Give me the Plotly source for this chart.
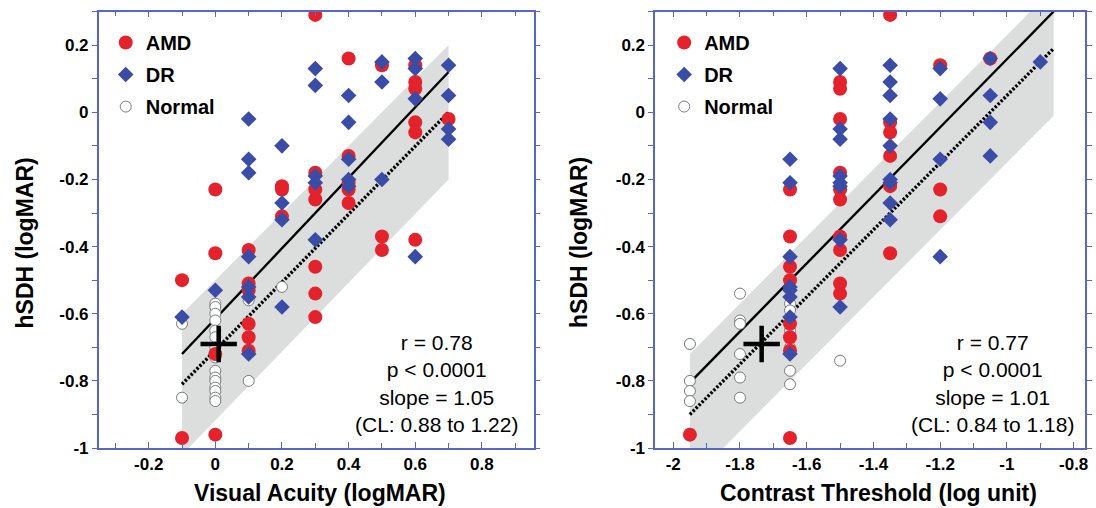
import plotly.graph_objects as go

# ---------------- Data: Visual Acuity panel ----------------
va_amd_x = [0.3, 0.4, 0.5, 0.6, 0.6, 0.6, 0.6, 0.6, 0.7, 0.0, 0.2, 0.2, 0.2, 0.3, 0.3, 0.3,
            0.4, 0.4, 0.4, 0.4, 0.5, 0.5, 0.6, 0.3, 0.3, 0.3, 0.1, 0.1, 0.1, 0.1, 0.1, 0.1,
            0.0, 0.0, 0.0, -0.1, -0.1]
va_amd_y = [0.29, 0.16, 0.14, 0.14, 0.09, 0.07, -0.03, -0.06, -0.02, -0.23, -0.22, -0.23, -0.31,
            -0.18, -0.23, -0.26, -0.13, -0.21, -0.23, -0.27, -0.37, -0.41, -0.38, -0.46, -0.54,
            -0.61, -0.41, -0.51, -0.53, -0.63, -0.67, -0.71, -0.42, -0.72, -0.96, -0.50, -0.97]
va_dr_x = [0.3, 0.3, 0.4, 0.4, 0.5, 0.5, 0.6, 0.6, 0.6, 0.7, 0.7, 0.7, 0.7, 0.1, 0.1, 0.1,
           0.2, 0.2, 0.2, 0.3, 0.3, 0.4, 0.4, 0.4, 0.5, 0.6, 0.3, 0.2, 0.1, 0.1, 0.1, 0.1,
           0.0, -0.1]
va_dr_y = [0.13, 0.08, 0.05, -0.03, 0.15, 0.09, 0.16, 0.13, 0.04, 0.14, 0.05, -0.05, -0.08,
           -0.02, -0.14, -0.18, -0.10, -0.27, -0.32, -0.19, -0.21, -0.14, -0.20, -0.22, -0.20,
           -0.43, -0.38, -0.58, -0.43, -0.52, -0.55, -0.72, -0.53, -0.61]
va_nor_x = [-0.1, -0.1] + [0.0] * 15 + [0.1, 0.1, 0.2]
va_nor_y = [-0.63, -0.85, -0.57, -0.58, -0.60, -0.62, -0.65, -0.67, -0.70, -0.73, -0.77, -0.79,
            -0.80, -0.82, -0.83, -0.85, -0.86, -0.56, -0.80, -0.52]
va_mean_x = [0.01]
va_mean_y = [-0.69]
va_line_x = [-0.1, 0.7]
va_fit_y = [-0.72, 0.12]
va_ref_y = [-0.81, 0.0]
va_band_up = [-0.60, 0.20]
va_band_lo = [-1.02, -0.20]
va_stats = ["r = 0.78", "p < 0.0001", "slope = 1.05", "(CL: 0.88 to 1.22)"]

# ---------------- Data: Contrast Threshold panel ----------------
ct_amd_x = [-1.35, -1.5, -1.5, -1.5, -1.5, -1.5, -1.5, -1.35, -1.35, -1.35, -1.35, -1.2, -1.2,
            -1.2, -1.05, -1.65, -1.65, -1.65, -1.65, -1.65, -1.65, -1.65, -1.65, -1.5, -1.5,
            -1.5, -1.5, -1.35, -1.95]
ct_amd_y = [0.29, 0.09, 0.07, -0.02, -0.18, -0.23, -0.26, -0.03, -0.06, -0.13, -0.22, 0.14,
            -0.23, -0.31, 0.16, -0.23, -0.37, -0.46, -0.50, -0.63, -0.67, -0.71, -0.97, -0.37,
            -0.41, -0.51, -0.54, -0.42, -0.96]
ct_dr_x = [-1.65, -1.65, -1.5, -1.5, -1.5, -1.5, -1.5, -1.5, -1.35, -1.35, -1.35, -1.35, -1.35,
           -1.35, -1.35, -1.35, -1.35, -1.2, -1.2, -1.2, -1.2, -1.05, -1.05, -1.05, -1.05, -0.9,
           -1.65, -1.65, -1.65, -1.65, -1.65, -1.65, -1.5, -1.5]
ct_dr_y = [-0.14, -0.21, 0.13, -0.05, -0.08, -0.19, -0.21, -0.22, 0.14, 0.09, 0.05, -0.02, -0.10,
           -0.20, -0.21, -0.27, -0.32, 0.13, 0.04, -0.14, -0.43, 0.16, 0.05, -0.03, -0.13, 0.15,
           -0.43, -0.52, -0.53, -0.55, -0.61, -0.72, -0.38, -0.58]
ct_nor_x = [-1.95] * 4 + [-1.8] * 6 + [-1.65] * 6 + [-1.5]
ct_nor_y = [-0.69, -0.80, -0.83, -0.86, -0.54, -0.62, -0.63, -0.72, -0.79, -0.85, -0.57, -0.59,
            -0.65, -0.70, -0.77, -0.81, -0.74]
ct_mean_x = [-1.735]
ct_mean_y = [-0.69]
ct_line_x = [-1.95, -0.86]
ct_fit_y = [-0.805, 0.30]
ct_ref_y = [-0.90, 0.19]
ct_band_up = [-0.72, 0.37]
ct_band_lo = [-1.10, -0.01]
ct_stats = ["r = 0.77", "p < 0.0001", "slope = 1.01", "(CL: 0.84 to 1.18)"]

# ---------------- Axis ticks ----------------
y_ticks = [-1, -0.8, -0.6, -0.4, -0.2, 0, 0.2]
y_ticktext = ["-1", "-0.8", "-0.6", "-0.4", "-0.2", "0", "0.2"]
va_ticks = [-0.2, 0, 0.2, 0.4, 0.6, 0.8]
va_ticktext = ["-0.2", "0", "0.2", "0.4", "0.6", "0.8"]
ct_ticks = [-2, -1.8, -1.6, -1.4, -1.2, -1, -0.8]
ct_ticktext = ["-2", "-1.8", "-1.6", "-1.4", "-1.2", "-1", "-0.8"]

RED = "#e4222b"
BLUE = "#3a4ca6"
BAND = "#dcdddd"
AXC = "#5767c2"
FONT = "Liberation Sans, Arial, sans-serif"

W, H = 1096, 508
VS = 0.978  # measured vertical scale between figure pixels and the photographed page


def sx(px):
    return px / W


def sy(py):
    return 1 - (py / VS) / H


fig = go.Figure()


def add_panel(xa, ya, leg, line_x, band_up, band_lo, fit_y, ref_y,
              nx, ny, ax, ay, dx, dy, mx, my):
    fig.add_trace(go.Scatter(x=line_x + line_x[::-1], y=band_up + band_lo[::-1],
                             fill="toself", fillcolor=BAND, line=dict(width=0),
                             mode="lines", hoverinfo="skip", showlegend=False,
                             xaxis=xa, yaxis=ya))
    fig.add_trace(go.Scatter(x=line_x, y=ref_y, mode="lines",
                             line=dict(color="black", width=3.4, dash="2.4px,1.8px"),
                             showlegend=False, xaxis=xa, yaxis=ya))
    fig.add_trace(go.Scatter(x=line_x, y=fit_y, mode="lines",
                             line=dict(color="black", width=2.4),
                             showlegend=False, xaxis=xa, yaxis=ya))
    fig.add_trace(go.Scatter(x=nx, y=ny, mode="markers", name="Normal", legend=leg,
                             legendrank=3, legendgroup=leg + "n",
                             marker=dict(symbol="circle", size=11, color="white",
                                         line=dict(color="#7a7a7a", width=1)),
                             xaxis=xa, yaxis=ya))
    fig.add_trace(go.Scatter(x=ax, y=ay, mode="markers", name="AMD", legend=leg,
                             legendrank=1, legendgroup=leg + "a",
                             marker=dict(symbol="circle", size=14, color=RED,
                                         line=dict(width=0)),
                             xaxis=xa, yaxis=ya))
    fig.add_trace(go.Scatter(x=dx, y=dy, mode="markers", name="DR", legend=leg,
                             legendrank=2, legendgroup=leg + "d",
                             marker=dict(symbol="diamond", size=12, color=BLUE,
                                         line=dict(width=0)),
                             xaxis=xa, yaxis=ya))
    fig.add_trace(go.Scatter(x=mx, y=my, mode="markers", showlegend=False,
                             marker=dict(symbol="cross-thin", size=26,
                                         line=dict(color="black", width=4.5)),
                             xaxis=xa, yaxis=ya))


add_panel("x", "y", "legend", va_line_x, va_band_up, va_band_lo, va_fit_y, va_ref_y,
          va_nor_x, va_nor_y, va_amd_x, va_amd_y, va_dr_x, va_dr_y, va_mean_x, va_mean_y)
add_panel("x2", "y2", "legend2", ct_line_x, ct_band_up, ct_band_lo, ct_fit_y, ct_ref_y,
          ct_nor_x, ct_nor_y, ct_amd_x, ct_amd_y, ct_dr_x, ct_dr_y, ct_mean_x, ct_mean_y)

tickfont = dict(family=FONT, size=17, color="black", weight="bold")


def xaxis(dom, rng, tv, tt):
    return dict(domain=dom, range=rng, tickvals=tv, ticktext=tt, ticks="inside",
                ticklen=6, tickwidth=1.2, tickcolor=AXC, showline=True, linecolor=AXC,
                linewidth=1.5, mirror="ticks", showgrid=False, zeroline=False,
                tickfont=tickfont,
                minor=dict(dtick=0.1, tick0=0, ticks="inside", ticklen=5, tickcolor=AXC,
                           tickwidth=1.2))


def yaxis(anchor):
    return dict(domain=[sy(447), sy(11.5)], range=[-1, 0.3], tickvals=y_ticks,
                ticktext=y_ticktext, ticks="outside", ticklen=5, tickwidth=1.2,
                tickcolor=AXC, showline=True, linecolor=AXC, linewidth=1.5,
                mirror="ticks", showgrid=False, zeroline=False, tickfont=tickfont,
                anchor=anchor,
                minor=dict(dtick=0.1, tick0=0, ticks="outside", ticklen=5, tickcolor=AXC,
                           tickwidth=1.2))


legfont = dict(family=FONT, size=20, color="black", weight="bold")
leg_common = dict(xanchor="left", yanchor="top", bgcolor="rgba(0,0,0,0)", font=legfont,
                  itemwidth=30, traceorder="grouped", tracegroupgap=3)
fig.update_layout(
    width=W, height=H, margin=dict(l=0, r=0, t=0, b=0),
    paper_bgcolor="white", plot_bgcolor="white",
    xaxis=xaxis([sx(99), sx(535)], [-0.35, 0.955], va_ticks, va_ticktext),
    yaxis=yaxis("x"),
    xaxis2=xaxis([sx(657), sx(1088)], [-2.054, -0.766], ct_ticks, ct_ticktext),
    yaxis2=yaxis("x2"),
    legend=dict(x=sx(106), y=sy(23), **leg_common),
    legend2=dict(x=sx(666), y=sy(23), **leg_common),
)

titlefont = dict(family=FONT, size=23, color="black", weight="bold")
statfont = dict(family=FONT, size=21, color="black")


def ann(text, px, py, font, angle=0):
    fig.add_annotation(text=text, x=sx(px), y=sy(py), xref="paper", yref="paper",
                       xanchor="center", yanchor="middle", showarrow=False,
                       textangle=angle, align="center", font=font)


ann("Visual Acuity (logMAR)", 321, 492, titlefont)
ann("Contrast Threshold (log unit)", 881, 492, titlefont)
ann("hSDH (logMAR)", 25, 242, titlefont, -90)
ann("hSDH (logMAR)", 580, 242, titlefont, -90)
ann("<br>".join(va_stats), 438, 383, statfont)
ann("<br>".join(ct_stats), 995, 383, statfont)

# remove the browser's default 8px page margin so the figure starts at the window corner
fig.write_html("out.html", config={"displayModeBar": False},
               post_script="document.body.style.margin='0px';")
